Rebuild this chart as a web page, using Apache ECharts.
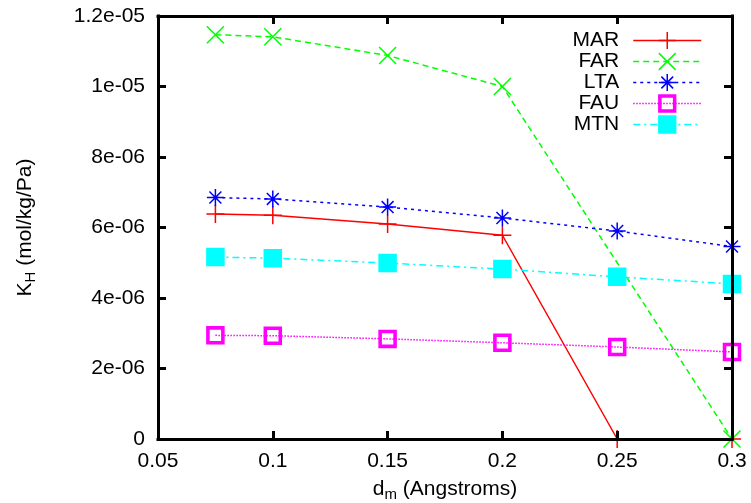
<!DOCTYPE html>
<html>
<head>
<meta charset="utf-8">
<script src="https://cdn.jsdelivr.net/npm/echarts@6/dist/echarts.min.js"></script>
<style>
html, body { margin: 0; padding: 0; background: #fff; }
#chart { width: 751px; height: 503px; }
</style>
</head>
<body>
<div id="chart"></div>
<script>
// x positions (d_m, Angstroms)
const dm = [0.075, 0.1, 0.15, 0.2, 0.25, 0.3];
// K_H values per framework, null = no point
const mar = [6.38e-6, 6.35e-6, 6.1e-6, 5.78e-6, 0, 0];
const far = [1.147e-5, 1.141e-5, 1.088e-5, 1.0e-5, null, 0];
const lta = [6.85e-6, 6.81e-6, 6.58e-6, 6.27e-6, 5.9e-6, 5.46e-6];
const fau = [2.94e-6, 2.93e-6, 2.84e-6, 2.73e-6, 2.61e-6, 2.47e-6];
const mtn = [5.16e-6, 5.13e-6, 4.99e-6, 4.82e-6, 4.6e-6, 4.4e-6];

const xTickLabels = ['0.05', '0.1', '0.15', '0.2', '0.25', '0.3'];
const yTickLabels = ['0', '2e-06', '4e-06', '6e-06', '8e-06', '1e-05', '1.2e-05'];

const FONT = 'Liberation Sans, Arial, Helvetica, sans-serif';

const symPlus = 'path://M0,5L10,5M5,0L5,10';
const symCross = 'path://M0,0L10,10M0,10L10,0';
const symStar = 'path://M0,5L10,5M5,0L5,10M1.5,1.5L8.5,8.5M1.5,8.5L8.5,1.5';
const symOpenBox = 'path://M0,0L10,0L10,10L0,10Z M1.2,1.2L1.2,8.8L8.8,8.8L8.8,1.2Z';
const symBox = 'path://M0,0L10,0L10,10L0,10Z';

function pts(vals) {
    return dm.map((x, i) => [x, vals[i]]).filter(p => p[1] !== null);
}

function makeSeries(name, vals, color, dash, symbol, size) {
    return {
        name: name,
        type: 'line',
        data: pts(vals),
        symbol: symbol,
        symbolSize: size,
        showAllSymbol: true,
        clip: false,
        lineStyle: { color: color, width: 1.5, type: dash },
        itemStyle: { color: color, borderColor: color, borderWidth: 1.5 },
        emphasis: { disabled: true }
    };
}

// border drawn in front of the data, like gnuplot
const axisLine = { onZero: false, lineStyle: { color: '#000', width: 3, cap: 'square' } };
const axisTick = { inside: true, length: 8, lineStyle: { color: '#000', width: 3 } };

const chart = echarts.init(document.getElementById('chart'));
chart.setOption({
    animation: false,
    backgroundColor: '#fff',
    grid: { left: 158, right: 19, top: 16, bottom: 64, containLabel: false, outerBoundsMode: 'none' },
    legend: {
        orient: 'vertical',
        align: 'right',
        right: 44,
        top: 25,
        itemWidth: 68,
        itemHeight: 21,
        itemGap: 0,
        itemStyle: { borderWidth: 1.5 },
        lineStyle: { width: 1.5 },
        textStyle: { fontFamily: FONT, fontSize: 21, color: '#000', lineHeight: 21, padding: [0, 9, 0, 0] },
        data: ['MAR', 'FAR', 'LTA', 'FAU', 'MTN']
    },
    xAxis: [{
        type: 'value',
        position: 'bottom',
        z: 10,
        min: 0.05,
        max: 0.3,
        interval: 0.05,
        axisLine: axisLine,
        axisTick: axisTick,
        splitLine: { show: false },
        axisLabel: {
            margin: 12,
            fontFamily: FONT,
            fontSize: 21,
            color: '#000',
            formatter: v => xTickLabels[Math.round((v - 0.05) / 0.05)]
        },
        name: '{a|d}{s|m}{a| (Angstroms)}',
        nameLocation: 'middle',
        nameGap: 38,
        nameTextStyle: {
            color: '#000',
            rich: {
                a: { fontFamily: FONT, fontSize: 21, color: '#000' },
                s: { fontFamily: FONT, fontSize: 15, color: '#000', padding: [10, 0, 0, 0] }
            }
        }
    }, {
        type: 'value',
        position: 'top',
        z: 10,
        min: 0.05,
        max: 0.3,
        interval: 0.05,
        axisLine: axisLine,
        axisTick: axisTick,
        splitLine: { show: false },
        axisLabel: { show: false }
    }],
    yAxis: [{
        type: 'value',
        position: 'left',
        z: 10,
        min: 0,
        max: 1.2e-5,
        interval: 2e-6,
        axisLine: axisLine,
        axisTick: axisTick,
        splitLine: { show: false },
        axisLabel: {
            margin: 13,
            fontFamily: FONT,
            fontSize: 21,
            color: '#000',
            formatter: v => yTickLabels[Math.round(v / 2e-6)]
        },
        name: '{a|K}{s|H}{a| (mol/kg/Pa)}',
        nameLocation: 'middle',
        nameRotate: 90,
        nameGap: 120,
        nameTextStyle: {
            color: '#000',
            rich: {
                a: { fontFamily: FONT, fontSize: 21, color: '#000' },
                s: { fontFamily: FONT, fontSize: 15, color: '#000', padding: [10, 0, 0, 0] }
            }
        }
    }, {
        type: 'value',
        position: 'right',
        z: 10,
        min: 0,
        max: 1.2e-5,
        interval: 2e-6,
        axisLine: axisLine,
        axisTick: axisTick,
        splitLine: { show: false },
        axisLabel: { show: false }
    }],
    series: [
        makeSeries('MAR', mar, '#ff0000', 'solid', symPlus, 18),
        makeSeries('FAR', far, '#00ff00', [6, 4], symCross, 17),
        makeSeries('LTA', lta, '#0000ff', [3, 4], symStar, 17),
        makeSeries('FAU', fau, '#ff00ff', [1.5, 1.5], symOpenBox, 17),
        makeSeries('MTN', mtn, '#00ffff', [7, 4, 2, 4], symBox, 17)
    ]
});
</script>
</body>
</html>
